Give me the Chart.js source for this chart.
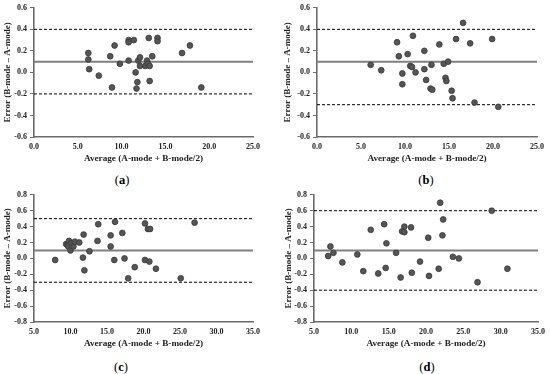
<!DOCTYPE html>
<html>
<head>
<meta charset="utf-8">
<script src="https://cdn.jsdelivr.net/npm/chart.js@4.4.1/dist/chart.umd.min.js"></script>
<style>
    body { margin: 0; background: #fff; }
    #wrap { position: relative; width: 550px; height: 374px; background: #fff; }
    .panel { position: absolute; width: 275px; height: 187px; }
    .panel canvas { position: absolute; left: 0; top: 0; }
    .tag {
        position: absolute;
        font-family: "Liberation Serif", serif;
        font-size: 12.5px;
        color: #000;
        transform: translate(-50%, -50%);
        white-space: nowrap;
    }
</style>
</head>
<body>
<div id="wrap">
    <div class="panel" style="left:0;top:0">
        <canvas id="chartA"></canvas>
        <div class="tag" style="left:122px;top:180px">(<b>a</b>)</div>
    </div>
    <div class="panel" style="left:275px;top:0">
        <canvas id="chartB"></canvas>
        <div class="tag" style="left:151px;top:180px">(<b>b</b>)</div>
    </div>
    <div class="panel" style="left:0;top:187px">
        <canvas id="chartC"></canvas>
        <div class="tag" style="left:121px;top:180px">(<b>c</b>)</div>
    </div>
    <div class="panel" style="left:275px;top:187px">
        <canvas id="chartD"></canvas>
        <div class="tag" style="left:152px;top:180px">(<b>d</b>)</div>
    </div>
</div>

<script>
// axis titles
const errTitle = 'Error (B-mode \u2013 A-mode)';
const avgTitle = 'Average (A-mode + B-mode/2)';

// (a)
const aAvg = [6.2, 6.2, 6.3, 7.4, 8.7, 8.9, 9.2, 9.8, 10.8, 10.8, 10.8, 11.4, 11.6, 11.8, 11.7,
              11.9, 12.1, 12.1, 12.7, 12.9, 13.0, 13.1, 13.2, 13.2, 13.5, 14.1, 14.1, 16.9, 17.8, 19.1];
const aErr = [0.18, 0.12, 0.03, -0.03, 0.15, -0.14, 0.25, 0.08, 0.30, 0.28, 0.11, 0.30, 0.00, -0.09, -0.15,
              0.11, 0.14, 0.06, 0.06, 0.11, 0.08, 0.32, -0.08, 0.06, 0.15, 0.32, 0.29, 0.18, 0.25, -0.14];
const aLimits = [0.1, 0.4, -0.2];   // mean, upper, lower

// (b)
const bAvg = [6.1, 7.3, 9.1, 9.3, 9.7, 9.7, 10.3, 10.6, 10.8, 10.9, 11.2, 12.2, 12.2, 12.4, 12.9,
              13.1, 13.0, 13.9, 14.4, 14.6, 14.7, 14.9, 15.3, 15.4, 15.8, 16.6, 17.4, 17.9, 19.9, 20.6];
const bErr = [0.07, 0.02, 0.28, 0.15, -0.01, -0.11, 0.17, 0.06, 0.05, 0.34, 0.00, 0.20, 0.03, -0.07, -0.15,
              -0.16, 0.07, 0.26, 0.08, -0.05, -0.08, 0.10, -0.17, -0.24, 0.31, 0.46, 0.27, -0.28, 0.31, -0.32];
const bLimits = [0.1, 0.4, -0.3];

// (c)
const cAvg = [7.9, 9.4, 9.6, 9.8, 9.7, 10.0, 10.1, 10.4, 10.6, 11.2, 11.7, 11.8, 11.9, 12.6, 13.7, 13.8,
              15.5, 15.5, 16.0, 16.1, 17.1, 17.4, 17.9, 18.8, 20.2, 20.2, 20.6, 20.9, 20.8, 21.7, 25.1, 27.0];
const cErr = [-0.02, 0.18, 0.17, 0.22, 0.15, 0.10, 0.19, 0.15, 0.21, 0.20, 0.01, 0.30, -0.15, 0.09, 0.22, 0.43,
              0.29, 0.15, -0.02, 0.46, 0.32, 0.00, -0.25, -0.11, 0.44, -0.02, 0.37, 0.37, -0.04, -0.13, -0.25, 0.45];
const cLimits = [0.1, 0.5, -0.3];

// (d)
const dAvg = [6.9, 7.2, 7.6, 8.8, 10.8, 11.6, 12.6, 13.6, 14.4, 14.6, 14.7, 16.0, 16.6, 16.8, 17.1,
              17.1, 18.0, 18.1, 19.2, 20.3, 20.4, 21.7, 21.9, 22.2, 22.3, 23.6, 24.4, 26.9, 28.8, 30.9];
const dErr = [0.03, 0.15, 0.07, -0.05, 0.05, -0.16, 0.36, -0.19, 0.43, -0.12, 0.19, 0.07, -0.24, 0.34, 0.40,
              0.33, 0.39, -0.18, -0.04, 0.26, -0.22, -0.13, 0.70, 0.29, 0.49, 0.02, 0.00, -0.30, 0.60, -0.13];
const dLimits = [0.1, 0.6, -0.4];

// axis ranges [min, max, step]
const xRangeAB = [0, 25, 5];
const yRangeAB = [-0.6, 0.6, 0.2];
const xRangeCD = [5, 35, 5];
const yRangeCD = [-0.8, 0.8, 0.2];

const serif = '"Liberation Serif", "DejaVu Serif", serif';
const axisColor = '#6b6b6b';

function fmt(v) {
    return Math.abs(v) < 1e-9 ? '0.0' : v.toFixed(1);
}

function makePanel(id, avg, err, limits, xRange, yRange, box) {
    const canvas = document.getElementById(id);
    canvas.width = 275;
    canvas.height = box.bottom + 29;

    const pts = avg.map((x, i) => ({ x: x, y: err[i] }));
    const flat = y => [{ x: xRange[0], y: y }, { x: xRange[1], y: y }];

    new Chart(canvas, {
        type: 'scatter',
        data: {
            datasets: [
                {
                    data: pts,
                    pointRadius: 2.9,
                    pointBackgroundColor: '#555555',
                    pointBorderColor: '#3a3a3a',
                    pointBorderWidth: 0.8,
                    order: 0
                },
                {
                    type: 'line', data: flat(limits[0]), borderColor: '#808080', borderWidth: 2,
                    pointRadius: 0, order: 1
                },
                {
                    type: 'line', data: flat(limits[1]), borderColor: '#000', borderWidth: 1,
                    borderDash: [3, 2], pointRadius: 0, order: 1
                },
                {
                    type: 'line', data: flat(limits[2]), borderColor: '#000', borderWidth: 1,
                    borderDash: [3, 2], pointRadius: 0, order: 1
                }
            ]
        },
        options: {
            responsive: false,
            animation: false,
            events: [],
            layout: { padding: { left: 0, right: 275 - box.right, top: box.top, bottom: 0 } },
            plugins: { legend: { display: false }, tooltip: { enabled: false } },
            scales: {
                x: {
                    type: 'linear',
                    min: xRange[0], max: xRange[1],
                    afterFit: s => { s.height = 29; },
                    ticks: {
                        stepSize: xRange[2], callback: v => fmt(v), padding: 5,
                        maxRotation: 0, color: '#222',
                        font: { family: serif, size: 8, weight: 'bold' }
                    },
                    grid: { drawOnChartArea: false, drawTicks: false, color: axisColor },
                    border: { display: true, color: axisColor, width: 1.6 },
                    title: {
                        display: true, text: avgTitle, color: '#222',
                        padding: { top: 0, bottom: 2 },
                        font: { family: serif, size: 9.2, weight: 'bold' }
                    }
                },
                y: {
                    type: 'linear',
                    min: yRange[0], max: yRange[1],
                    afterFit: s => { s.width = box.left; },
                    ticks: {
                        stepSize: yRange[2], callback: v => fmt(v), padding: 3, color: '#222',
                        font: { family: serif, size: 8, weight: 'bold' }
                    },
                    grid: { drawOnChartArea: false, drawTicks: true, tickLength: 4, color: axisColor, lineWidth: 1 },
                    border: { display: true, color: axisColor, width: 1.6 },
                    title: {
                        display: true, text: errTitle, color: '#222',
                        padding: { top: box.titlePad, bottom: 0 },
                        font: { family: serif, size: 9, weight: 'bold' }
                    }
                }
            }
        }
    });
}

makePanel('chartA', aAvg, aErr, aLimits, xRangeAB, yRangeAB, { left: 34, right: 253, top: 7, bottom: 137, titlePad: 2.5 });
makePanel('chartB', bAvg, bErr, bLimits, xRangeAB, yRangeAB, { left: 42, right: 262, top: 7, bottom: 137, titlePad: 7.5 });
makePanel('chartC', cAvg, cErr, cLimits, xRangeCD, yRangeCD, { left: 34, right: 253, top: 6, bottom: 135, titlePad: 2.5 });
makePanel('chartD', dAvg, dErr, dLimits, xRangeCD, yRangeCD, { left: 39, right: 266, top: 6, bottom: 135, titlePad: 8.5 });
</script>
</body>
</html>
